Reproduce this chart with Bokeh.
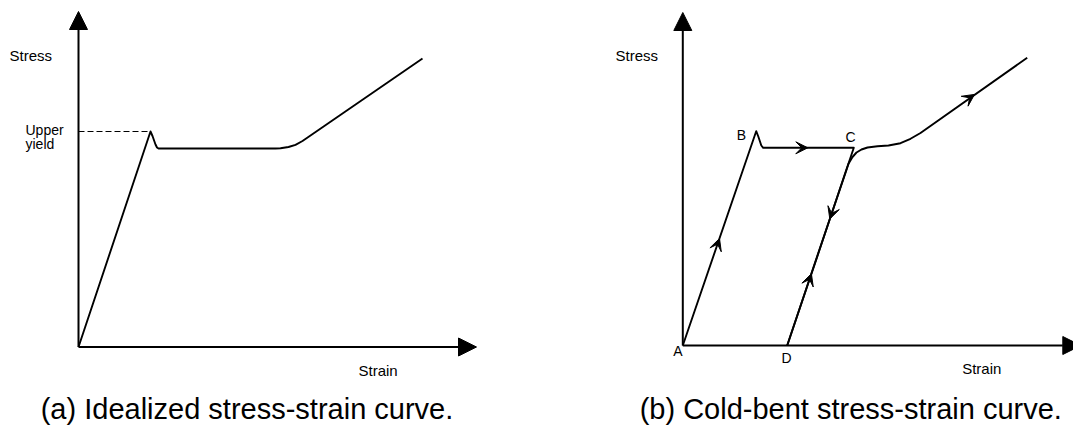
from bokeh.plotting import figure
from bokeh.layouts import row
from bokeh.models import Range1d, Arrow, NormalHead, VeeHead, ColumnDataSource
from bokeh.core.properties import value
from bokeh.embed import file_html
from bokeh.resources import INLINE

FONT = "Liberation Sans"

# ---- (a) idealized curve: strain / stress in drawing units ----
strain_a = [0, 72, 74, 77, 78.5, 80, 197, 202, 210, 217, 224, 344]
stress_a = [0, 215.5, 211, 202.5, 199.5, 198.5, 198.5, 198.8, 200, 202.2, 206, 288.5]
upper_yield_strain = 72
upper_yield_stress = 215.5

# axis extents (arrow tips)
axis_a_strain_max = 398
axis_a_stress_max = 335.5

# ---- (b) cold-bent curve ----
# A -> B (upper yield) -> plateau -> C -> unload to D
strain_b_load = [0, 73.4, 75.5, 78.5, 80.4, 171, 104.4]
stress_b_load = [0, 214.3, 209, 200, 197.7, 197.7, 0]
# D -> reload, rejoin and strain-harden
strain_b_reload = [104.4, 165.7, 169.7, 173.7, 178.7, 184.7, 194.7, 205.7, 217.7, 227.7, 237.7, 344.4]
stress_b_reload = [0, 181.7, 188.5, 193, 196, 198, 199.3, 200, 202.3, 206.7, 212.5, 287.7]

# direction markers along the path
arrow_tail_strain = [0, 80.4, 171, 104.4, 227.7]
arrow_tail_stress = [0, 197.7, 197.7, 0, 206.7]
arrow_tip_strain = [36.7, 125, 147.0, 128.6, 291.7]
arrow_tip_stress = [107.0, 197.7, 126.5, 71.8, 251.1]

axis_b_strain_max = 398
axis_b_stress_max = 333

point_names = ["A", "B", "C", "D"]
point_strain = [-5, 58.7, 167.7, 103.7]
point_stress = [-5, 210.7, 209, -12.7]


def base_figure(width, x0, y_bottom, y_top):
    p = figure(width=width, height=427, output_backend="svg", toolbar_location=None,
               x_range=Range1d(x0, x0 + width), y_range=Range1d(y_bottom, y_top),
               x_axis_type=None, y_axis_type=None, min_border=0,
               outline_line_color=None, background_fill_color="white",
               border_fill_color="white")
    p.grid.visible = False
    return p


def add_axes(p, xmax, ymax):
    for xe, ye in [(xmax, 0), (0, ymax)]:
        p.add_layout(Arrow(x_start=0, y_start=0, x_end=xe, y_end=ye,
                           line_color="black", line_width=2,
                           end=NormalHead(size=18, fill_color="black",
                                          line_color="black", line_width=1)))


def add_text(p, x, y, txt, size, align="left", baseline="middle"):
    p.text(x=[x], y=[y], text=[txt], text_font=value(FONT),
           text_font_size=size, text_align=align, text_baseline=baseline,
           text_color="black")


# ---- panel (a) ----
pa = base_figure(590, -78, -80.5, 346.5)
add_axes(pa, axis_a_strain_max, axis_a_stress_max)
pa.line([0, upper_yield_strain], [upper_yield_stress, upper_yield_stress],
        line_color="black", line_width=1.2, line_dash="6 3")
pa.line(strain_a, stress_a, line_color="black", line_width=1.9, line_join="round")
add_text(pa, -69, 291.5, "Stress", "15px")
add_text(pa, 280, -23.5, "Strain", "15px")
add_text(pa, -53, 217.5, "Upper", "14px")
add_text(pa, -53, 203.5, "yield", "14px")
add_text(pa, 168.5, -61.5, "(a) Idealized stress-strain curve.", "29px", align="center")

# ---- panel (b) ----
pb = base_figure(483, -92.3, -82, 345)
add_axes(pb, axis_b_strain_max, axis_b_stress_max)
pb.line(strain_b_load, stress_b_load, line_color="black", line_width=1.9, line_join="round")
pb.line(strain_b_reload, stress_b_reload, line_color="black", line_width=1.9, line_join="round")
arrows = ColumnDataSource(dict(x0=arrow_tail_strain, y0=arrow_tail_stress,
                               x1=arrow_tip_strain, y1=arrow_tip_stress))
pb.add_layout(Arrow(source=arrows, x_start="x0", y_start="y0", x_end="x1", y_end="y1",
                    line_alpha=0,
                    end=VeeHead(size=12, fill_color="black", line_color="black",
                                line_width=1)))
pts = ColumnDataSource(dict(x=point_strain, y=point_stress, t=point_names))
pb.text(x="x", y="y", text="t", source=pts, text_font=value(FONT),
        text_font_size="14px", text_align="center", text_baseline="middle",
        text_color="black")
add_text(pb, -67.3, 290, "Stress", "15px")
add_text(pb, 279.4, -22.7, "Strain", "15px")
add_text(pb, 168, -63, "(b) Cold-bent stress-strain curve.", "29px", align="center")

layout = row(pa, pb, spacing=0)
open("out.html", "w").write(file_html(layout, INLINE))
